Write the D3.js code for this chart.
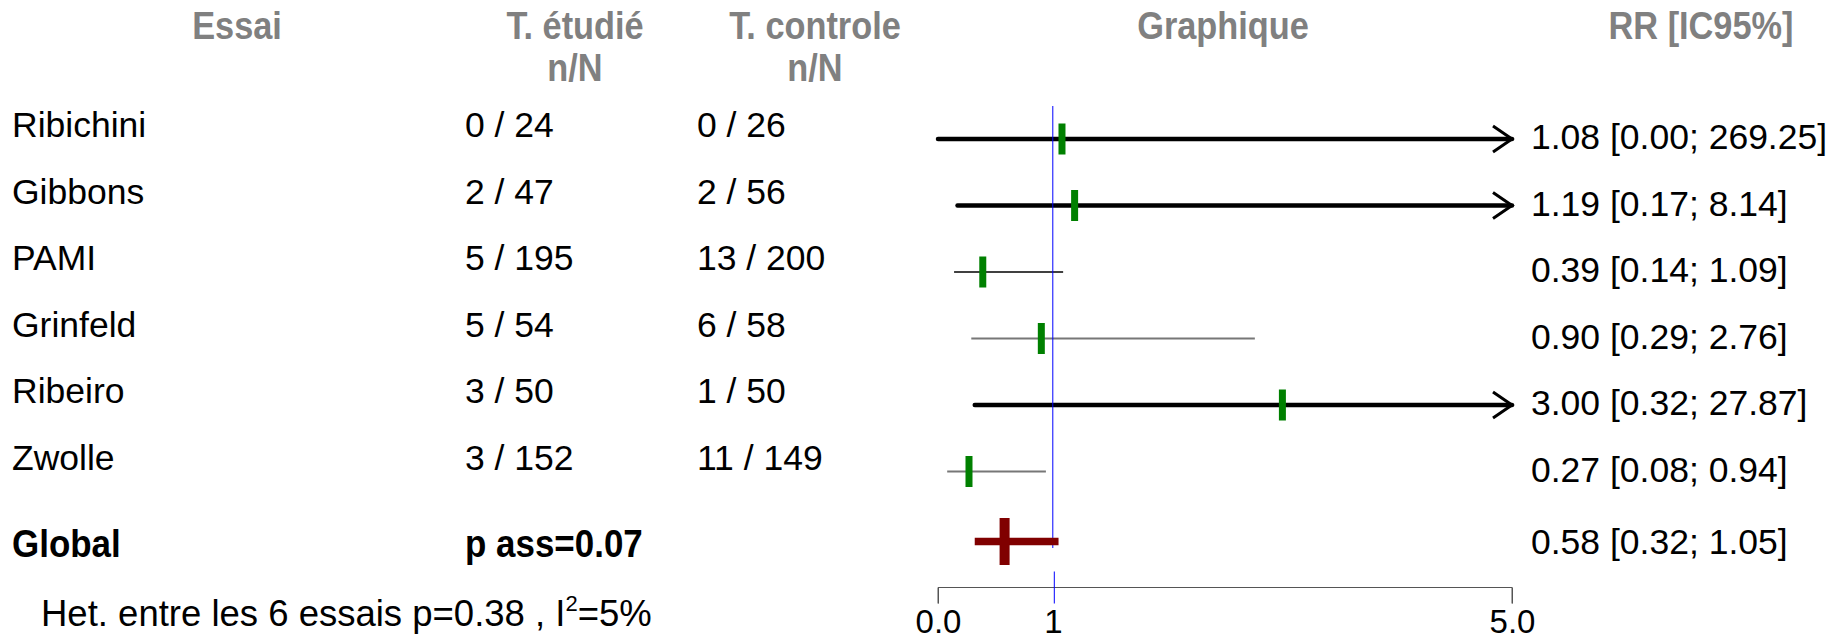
<!DOCTYPE html>
<html>
<head>
<meta charset="utf-8">
<script src="https://cdn.jsdelivr.net/npm/d3@7/dist/d3.min.js"></script>
<style>
  body { margin: 0; background: #fff; }
  text { font-family: "Liberation Sans", Arial, sans-serif; }
</style>
</head>
<body>
<div id="chart"></div>
<script>
// data
var trials = ["Ribichini", "Gibbons", "PAMI", "Grinfeld", "Ribeiro", "Zwolle"];
var eventsTreat = [0, 2, 5, 5, 3, 3];
var totalTreat = [24, 47, 195, 54, 50, 152];
var eventsCtrl = [0, 2, 13, 6, 1, 11];
var totalCtrl = [26, 56, 200, 58, 50, 149];
var rr = [1.08, 1.19, 0.39, 0.90, 3.00, 0.27];
var ciLow = [0.00, 0.17, 0.14, 0.29, 0.32, 0.08];
var ciHigh = [269.25, 8.14, 1.09, 2.76, 27.87, 0.94];
var globalRR = [0.58, 0.32, 1.05];
var pAss = "0.07";
var hetP = "0.38";
var hetI2 = "5%";
var nTrials = 6;
var axisTicks = [0, 1, 5];
var tickLabels = ["0.0", "1", "5.0"];
var headers = [["Essai"], ["T. étudié", "n/N"], ["T. controle", "n/N"], ["Graphique"], ["RR [IC95%]"]];

var width = 1847, height = 638;
var xMax = 5;
var thinColor = {PAMI: "#000"};

var x = d3.scaleLinear().domain([0, xMax]).range([938, 1512]);
var y = d3.scaleLinear().domain([0, trials.length - 1]).range([139, 471.5]);
var yGlobal = 541.5;

var svg = d3.select('#chart')
  .append('svg')
  .attr('width', width)
  .attr('height', height);

// column headers (narrow bold grey)
var headX = [237, 575, 815, 1223, 1701];
headers.forEach(function(lines, i){
  lines.forEach(function(t, j){
    svg.append('text')
      .attr('transform', 'translate(' + headX[i] + ',' + (39 + j * 42) + ') scale(0.88,1)')
      .attr('text-anchor', 'middle')
      .attr('font-size', 39)
      .attr('font-weight', 'bold')
      .attr('fill', '#808080')
      .text(t);
  });
});

var rows = svg.selectAll('g.row')
  .data(trials)
  .enter()
    .append('g')
    .classed('row', true);

rows.append('text')
  .attr('x', 12)
  .attr('y', function(d, i){ return y(i) - 2; })
  .attr('font-size', 35.5)
  .text(function(d){ return d; });

rows.append('text')
  .attr('x', 465)
  .attr('y', function(d, i){ return y(i) - 2; })
  .attr('font-size', 35.5)
  .text(function(d, i){ return eventsTreat[i] + ' / ' + totalTreat[i]; });

rows.append('text')
  .attr('x', 697)
  .attr('y', function(d, i){ return y(i) - 2; })
  .attr('font-size', 35.5)
  .text(function(d, i){ return eventsCtrl[i] + ' / ' + totalCtrl[i]; });

rows.append('text')
  .attr('x', 1531)
  .attr('y', function(d, i){ return y(i) + 10; })
  .attr('font-size', 35.5)
  .text(function(d, i){
    return rr[i].toFixed(2) + ' [' + ciLow[i].toFixed(2) + '; ' + ciHigh[i].toFixed(2) + ']';
  });

// reference line at RR = 1
svg.append('line')
  .attr('x1', x(1)).attr('x2', x(1))
  .attr('y1', 106).attr('y2', 548)
  .attr('stroke', '#0000ff')
  .attr('stroke-width', 1);

// confidence intervals
rows.append('line')
  .attr('x1', function(d, i){ return x(ciLow[i]); })
  .attr('x2', function(d, i){ return x(Math.min(ciHigh[i], xMax)); })
  .attr('y1', function(d, i){ return y(i); })
  .attr('y2', function(d, i){ return y(i); })
  .attr('stroke', function(d, i){ return ciHigh[i] > xMax ? '#000' : (thinColor[d] || '#777'); })
  .attr('stroke-width', function(d, i){ return ciHigh[i] > xMax ? 4.5 : (thinColor[d] ? 1.6 : 1.8); })
  .attr('stroke-linecap', function(d, i){ return ciHigh[i] > xMax ? 'round' : 'butt'; });

// arrows for intervals running past the axis
rows.filter(function(d, i){ return ciHigh[i] > xMax; })
  .append('path')
  .attr('d', function(d){
    var i = trials.indexOf(d), tip = x(xMax), yy = y(i);
    return 'M' + (tip - 19) + ',' + (yy - 13) + 'L' + tip + ',' + yy + 'L' + (tip - 19) + ',' + (yy + 13);
  })
  .attr('fill', 'none')
  .attr('stroke', '#000')
  .attr('stroke-width', 3);

// point estimates
rows.append('rect')
  .attr('x', function(d, i){ return x(rr[i]) - 3.5; })
  .attr('y', function(d, i){ return y(i) - 15.5; })
  .attr('width', 7)
  .attr('height', 31)
  .attr('fill', '#008000');

// global estimate
svg.append('line')
  .attr('x1', x(globalRR[1])).attr('x2', x(globalRR[2]))
  .attr('y1', yGlobal).attr('y2', yGlobal)
  .attr('stroke', '#800000')
  .attr('stroke-width', 7.5);
svg.append('rect')
  .attr('x', x(globalRR[0]) - 5)
  .attr('y', yGlobal - 23.5)
  .attr('width', 10)
  .attr('height', 47)
  .attr('fill', '#800000');

svg.append('text')
  .attr('transform', 'translate(12,557) scale(0.92,1)')
  .attr('font-size', 38)
  .attr('font-weight', 'bold')
  .text('Global');
svg.append('text')
  .attr('transform', 'translate(465,557) scale(0.92,1)')
  .attr('font-size', 38)
  .attr('font-weight', 'bold')
  .text('p ass=' + pAss);
svg.append('text')
  .attr('x', 1531)
  .attr('y', 554)
  .attr('font-size', 35.5)
  .text(globalRR[0].toFixed(2) + ' [' + globalRR[1].toFixed(2) + '; ' + globalRR[2].toFixed(2) + ']');

var het = svg.append('text')
  .attr('transform', 'translate(41,626)')
  .attr('font-size', 36.5);
het.append('tspan').text('Het. entre les ' + nTrials + ' essais p=' + hetP + ' , I');
het.append('tspan').attr('font-size', 22).attr('dy', -15).text('2');
het.append('tspan').attr('dy', 15).text('=' + hetI2);

// axis
var axis = svg.append('g')
  .attr('transform', 'translate(0,587.5)')
  .call(d3.axisBottom(x).tickValues(axisTicks).tickSize(16)
    .tickFormat(function(d, i){ return tickLabels[i]; }));
axis.select('.domain').attr('stroke', '#555').attr('d', 'M' + x(0) + ',16V0H' + x(xMax) + 'V16');
axis.selectAll('.tick line').attr('stroke', '#555');
axis.selectAll('.tick line').filter(function(d){ return d === 1; })
  .attr('stroke', '#0000ff').attr('y1', -16).attr('transform', 'translate(1,0)');
axis.selectAll('.tick text')
  .attr('font-size', 33)
  .attr('font-family', '"Liberation Sans", Arial, sans-serif')
  .attr('fill', '#000')
  .attr('dy', 0)
  .attr('y', 45);
</script>
</body>
</html>
